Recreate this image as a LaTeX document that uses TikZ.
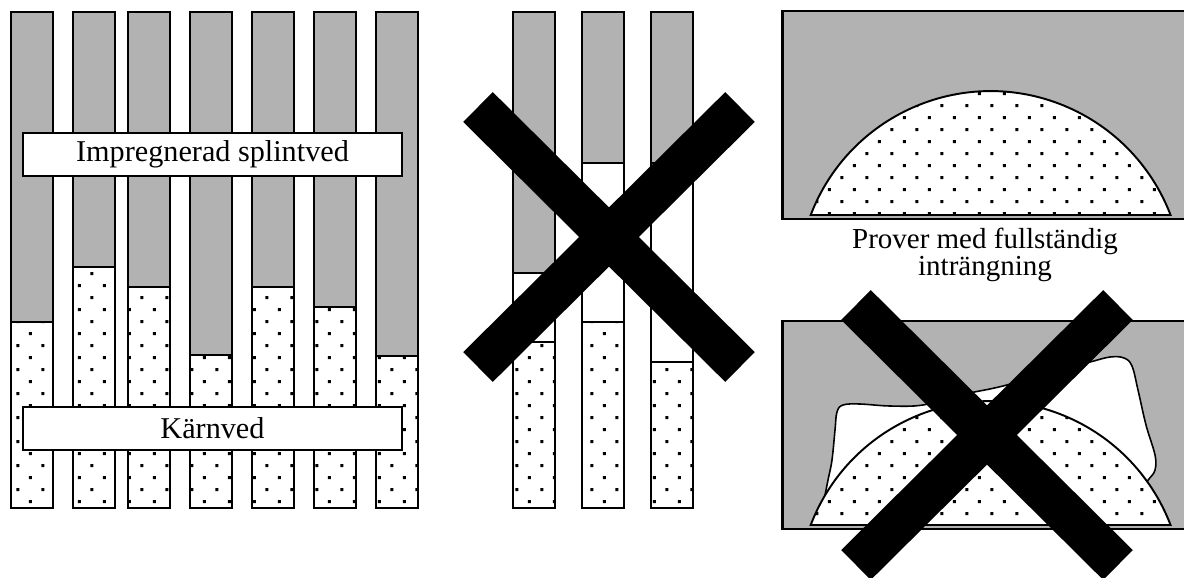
\documentclass[tikz,border=0pt]{standalone}
\usepackage{fontspec}
\setmainfont{Liberation Serif}
\usetikzlibrary{patterns.meta}

\tikzdeclarepattern{
  name=sparsedots,
  type=uncolored,
  bottom left={(0cm,0cm)},
  top right={(0.5cm,0.48cm)},
  tile size={(0.5cm,0.48cm)},
  code={
    \fill (0.08cm,0.08cm) rectangle (0.136cm,0.136cm);
    \fill (0.33cm,0.32cm) rectangle (0.386cm,0.376cm);
  }
}

\begin{document}
\begin{tikzpicture}[x=0.02cm, y=-0.02cm,
    sapwood/.style={fill=black!30},
    heartwood/.style={pattern=sparsedots, preaction={fill=white}},
    barframe/.style={draw, line width=1.5pt},
    thinline/.style={line width=1.1pt},
    labelbox/.style={draw, fill=white, line width=1.1pt, minimum width=7.58cm,
        minimum height=0.86cm, inner sep=0pt, font=\fontsize{17.2}{17.2}\selectfont},
    cross/.style={line width=0.84cm}]
    \useasboundingbox (0,0) rectangle (1184,578);
    % treated samples: x position / border sapwood-heartwood
    \foreach \x/\h in {11/322, 73/267, 128/287, 190/355, 252/287, 314/307, 376/356} {
        \fill[sapwood] (\x,12) rectangle (\x+42,\h);
        \path[heartwood] (\x,\h) rectangle (\x+42,508);
        \draw[thinline] (\x,\h) -- (\x+42,\h);
        \draw[barframe] (\x,12) rectangle (\x+42,508);
    }
    \node[labelbox] (splint) at (212.5,154.5) {Impregnerad splintved};
    \node[labelbox] (karn) at (212.5,428.5) {Kärnved};
    % rejected samples: white gap between sapwood and heartwood
    \foreach \x/\g/\k in {513/273/342, 582/163/322, 651/163/362} {
        \fill[sapwood] (\x,12) rectangle (\x+42,\g);
        \path[heartwood] (\x,\k) rectangle (\x+42,508);
        \draw[thinline] (\x,\g) -- (\x+42,\g) (\x,\k) -- (\x+42,\k);
        \draw[barframe] (\x,12) rectangle (\x+42,508);
    }
    % cross sections
    \fill[sapwood] (782,11) rectangle (1192,219);
    \fill[sapwood] (782,321) rectangle (1192,529);
    % untreated pocket in the lower one
    \draw[fill=white, line width=0.9pt] plot[smooth, tension=0.6] coordinates {
        (824,500) (828,480) (832,460) (835,430) (837,412) (843,405) (860,404)
        (890,406) (923,405) (960,395) (1003,386) (1050,372) (1090,362)
        (1110,357) (1124,358) (1132,366) (1138,390) (1146,425) (1155,455)
        (1155,470) (1149,479) (1140,490)} -- (1140,520) -- (824,520) -- cycle;
    \foreach \oy in {0,310} {
        \path[heartwood, draw, thinline] (810.7,215+\oy)
            arc[start angle=200.9, end angle=339.1, radius=192.6] -- cycle;
        \draw[line width=1.7pt] (782,11+\oy) rectangle (1192,219+\oy);
    }
    \node[align=center, font=\fontsize{16.5}{15}\selectfont] (prover) at (985,255)
        {Prover med fullständig\\inträngning};
    % crossed out
    \foreach \cx/\cy in {609/237, 987/435} {
        \draw[cross] (\cx-131,\cy-130) -- (\cx+131,\cy+130);
        \draw[cross] (\cx-131,\cy+130) -- (\cx+131,\cy-130);
    }
\end{tikzpicture}
\end{document}
